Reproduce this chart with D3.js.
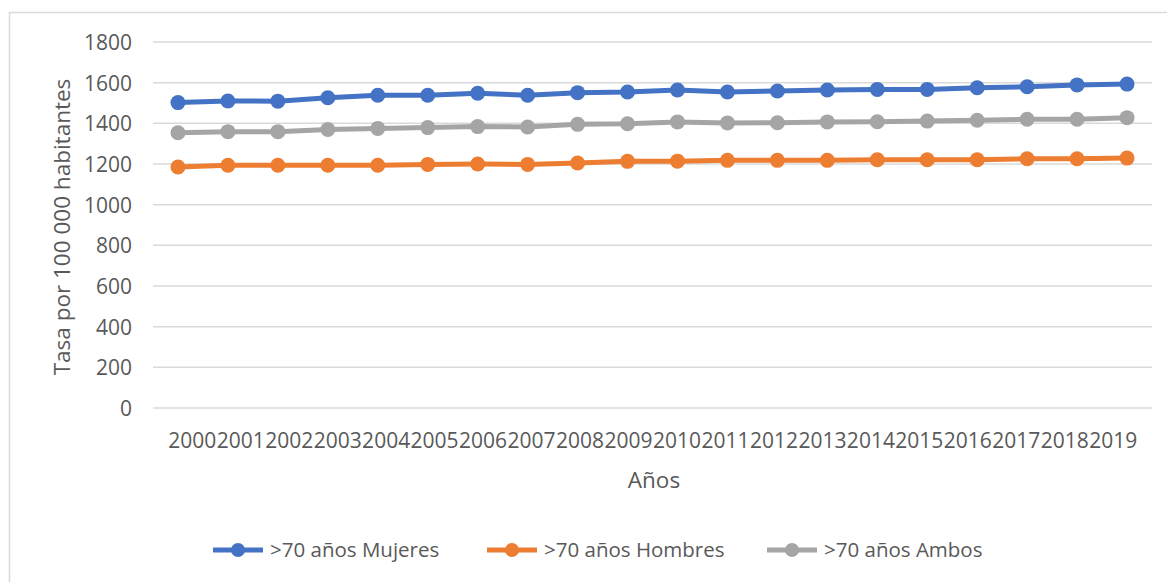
<!DOCTYPE html>
<html>
<head>
<meta charset="utf-8">
<script src="https://cdn.jsdelivr.net/npm/d3@7"></script>
<style>
  html, body { margin: 0; padding: 0; background: #fff; }
  svg { display: block; }
  svg text { font-family: "Open Sans", "Noto Sans", sans-serif; }
</style>
</head>
<body>
<svg id="chart" width="1167" height="582"></svg>
<script>
// Years on the category axis
const years = ["2000","2001","2002","2003","2004","2005","2006","2007","2008","2009",
               "2010","2011","2012","2013","2014","2015","2016","2017","2018","2019"];

// Rates per 100 000 inhabitants, population over 70
const mujeres = [1502,1510,1509,1526,1538,1538,1548,1538,1551,1554,
                 1564,1554,1559,1564,1567,1567,1575,1580,1589,1593];
const hombres = [1185,1194,1194,1194,1194,1198,1200,1198,1205,1213,
                 1214,1218,1218,1218,1221,1221,1221,1226,1226,1229];
const ambos   = [1354,1359,1359,1370,1375,1379,1384,1382,1395,1398,
                 1407,1402,1403,1407,1408,1411,1415,1420,1420,1428];

const seriesNames = [">70 años Mujeres", ">70 años Hombres", ">70 años Ambos"];
const seriesColors = ["#4472c4", "#ed7d31", "#a5a5a5"];
const yTicks = [0,200,400,600,800,1000,1200,1400,1600,1800];

const svg = d3.select("#chart");
const textColor = "#595959";
const fontFamily = '"Open Sans", "Noto Sans", sans-serif';

// outer chart frame
svg.append("rect")
  .attr("x", 9.5).attr("y", 12.5)
  .attr("width", 1300).attr("height", 700)
  .attr("fill", "none").attr("stroke", "#d9d9d9").attr("stroke-width", 1.5);

const x = d3.scalePoint().domain(years).range([153, 1152]).padding(0.5);
const y = d3.scaleLinear().domain([0, 1800]).range([408, 42]);
// category labels are packed edge to edge, centred under the plot
const xLabels = d3.scalePoint().domain(years).range([167.5, 1137]).padding(0.5);

// horizontal gridlines
svg.append("g").selectAll("line").data(yTicks).join("line")
  .attr("x1", 153).attr("x2", 1152)
  .attr("y1", d => y(d)).attr("y2", d => y(d))
  .attr("stroke", "#d9d9d9").attr("stroke-width", 1.5);

// y axis labels
const yAxis = d3.axisLeft(y).tickValues(yTicks).tickFormat(d3.format("d"))
  .tickSize(0).tickPadding(0);
const yg = svg.append("g").attr("transform", "translate(132,0)").call(yAxis)
  .attr("font-family", null).attr("font-size", null);
yg.select(".domain").remove();
yg.selectAll("text")
  .attr("fill", textColor)
  .style("font-family", fontFamily).style("font-size", "21px")
  .attr("dy", "0.35em").attr("x", 0);

// x axis labels
const xAxis = d3.axisBottom(xLabels).tickSize(0).tickPadding(0);
const xg = svg.append("g").attr("transform", "translate(0,441)").call(xAxis)
  .attr("font-family", null).attr("font-size", null);
xg.select(".domain").remove();
xg.selectAll("text")
  .attr("fill", textColor)
  .style("font-family", fontFamily).style("font-size", "21px")
  .attr("y", 0).attr("dy", "0.35em");

// axis titles
svg.append("text")
  .attr("x", 654).attr("y", 480).attr("dy", "0.35em")
  .attr("text-anchor", "middle")
  .attr("fill", textColor).style("font-size", "22.5px")
  .text("Años");

svg.append("text")
  .attr("transform", "translate(62,227) rotate(-90)")
  .attr("dy", "0.35em")
  .attr("text-anchor", "middle")
  .attr("fill", textColor).style("font-size", "22.5px")
  .text("Tasa por 100 000 habitantes");

// series lines and markers
const allSeries = [mujeres, hombres, ambos];
const drawOrder = [1, 2, 0];
const line = d3.line().x((d, i) => x(years[i])).y(d => y(d));

drawOrder.forEach(k => {
  const g = svg.append("g");
  g.append("path")
    .datum(allSeries[k])
    .attr("d", line)
    .attr("fill", "none")
    .attr("stroke", seriesColors[k])
    .attr("stroke-width", 5)
    .attr("stroke-linejoin", "round");
  g.selectAll("circle").data(allSeries[k]).join("circle")
    .attr("cx", (d, i) => x(years[i]))
    .attr("cy", d => y(d))
    .attr("r", 7.5)
    .attr("fill", seriesColors[k]);
});

// legend
const legendX = [213, 487, 767];
const legendY = 550;
seriesNames.forEach((name, k) => {
  const g = svg.append("g").attr("transform", `translate(${legendX[k]},${legendY})`);
  g.append("line").attr("x1", 0).attr("x2", 50).attr("y1", 0).attr("y2", 0)
    .attr("stroke", seriesColors[k]).attr("stroke-width", 5);
  g.append("circle").attr("cx", 25).attr("cy", 0).attr("r", 7).attr("fill", seriesColors[k]);
  g.append("text").attr("x", 57).attr("y", 0).attr("dy", "0.35em")
    .attr("fill", textColor).style("font-size", "20.5px")
    .text(name);
});
</script>
</body>
</html>
